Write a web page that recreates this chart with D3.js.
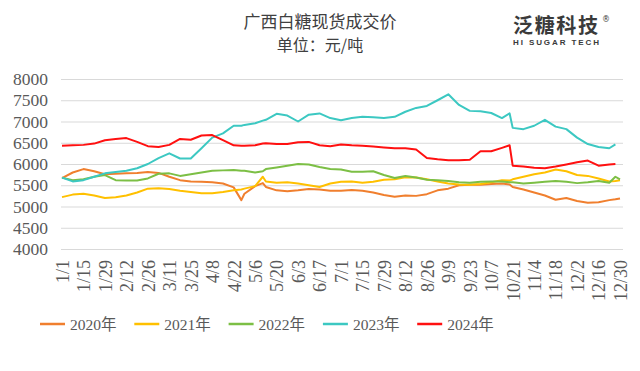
<!DOCTYPE html>
<html>
<head>
<meta charset="utf-8">
<script src="https://cdn.jsdelivr.net/npm/d3@7"></script>
<style>
  html, body { margin: 0; padding: 0; background: #ffffff; }
  svg { display: block; }
</style>
</head>
<body>
<div id="chart"></div>
<script>
// ---- Data ----
const title = "广西白糖现货成交价";
const subtitle = "单位：元/吨";
const seriesNames = ["2020年", "2021年", "2022年", "2023年", "2024年"];
const seriesColors = ["#F07F2E", "#FFC000", "#7CBF45", "#3CC8C2", "#FF1010"];

// tick labels (every 14 days, leap-year calendar)
const xTickLabels = ["1/1","1/15","1/29","2/12","2/26","3/11","3/25","4/8","4/22","5/6","5/20","6/3","6/17","7/1","7/15","7/29","8/12","8/26","9/9","9/23","10/7","10/21","11/4","11/18","12/2","12/16","12/30"];
const yTicks = [4000, 4500, 5000, 5500, 6000, 6500, 7000, 7500, 8000];

// day-of-year index (0 = 1/1) at which values were read
const days = [0,7,14,21,28,35,42,49,56,63,70,77,84,91,98,105,112,117,119,126,131,133,140,147,154,161,168,175,182,189,196,203,210,217,224,231,238,245,252,259,266,273,280,287,292,294,301,308,315,322,329,336,343,350,357,361,364];

const v2020 = [5670,5800,5880,5830,5760,5770,5780,5790,5810,5790,5700,5620,5590,5580,5570,5540,5450,5150,5300,5480,5550,5460,5380,5360,5380,5410,5400,5370,5370,5390,5370,5330,5270,5230,5260,5250,5290,5380,5420,5500,5510,5510,5530,5540,5520,5460,5400,5330,5260,5160,5200,5130,5090,5100,5150,5170,5190];
const v2021 = [5220,5280,5300,5260,5200,5220,5260,5330,5420,5430,5410,5370,5340,5310,5310,5340,5380,5400,5420,5480,5700,5590,5560,5570,5540,5500,5460,5540,5580,5590,5560,5580,5630,5640,5690,5680,5640,5590,5540,5520,5510,5530,5570,5620,5610,5640,5700,5760,5800,5870,5830,5740,5720,5660,5590,5600,5620];
const v2022 = [5680,5620,5640,5700,5740,5620,5610,5610,5660,5770,5780,5720,5760,5800,5840,5850,5860,5840,5840,5800,5830,5880,5920,5960,6000,5990,5930,5880,5870,5820,5820,5830,5740,5670,5720,5680,5630,5620,5600,5570,5560,5580,5590,5590,5570,5570,5540,5560,5580,5600,5580,5550,5570,5600,5560,5700,5640];
const v2023 = [5680,5590,5620,5700,5780,5810,5840,5900,6000,6140,6250,6130,6130,6370,6620,6720,6900,6900,6920,6960,7020,7040,7180,7140,7000,7160,7190,7080,7030,7080,7110,7100,7080,7110,7230,7320,7365,7500,7640,7390,7250,7240,7200,7080,7190,6850,6820,6900,7040,6880,6820,6620,6470,6400,6370,6460,null];
const v2024 = [6430,6440,6450,6480,6560,6590,6610,6520,6420,6400,6450,6590,6570,6670,6680,6560,6440,6430,6430,6440,6480,6490,6470,6470,6510,6520,6440,6420,6460,6440,6430,6410,6390,6370,6370,6340,6140,6110,6090,6090,6100,6300,6300,6380,6440,5960,5940,5910,5900,5940,5990,6040,6080,5960,5990,6000,null];

const seriesValues = [v2020, v2021, v2022, v2023, v2024];

// ---- Layout ----
const W = 640, H = 371;
const svg = d3.select("#chart").append("svg").attr("width", W).attr("height", H);

const x = d3.scaleLinear().domain([0, 364]).range([62, 620]);
const y = d3.scaleLinear().domain([4000, 8000]).range([249, 79]);

// titles
svg.append("text").attr("x", 320).attr("y", 28).attr("text-anchor", "middle")
  .attr("font-family", "'Noto Sans CJK SC', sans-serif").attr("font-size", 17)
  .attr("fill", "#404040").text(title);
svg.append("text").attr("x", 320).attr("y", 51).attr("text-anchor", "middle")
  .attr("font-family", "'Noto Sans CJK SC', sans-serif").attr("font-size", 16)
  .attr("fill", "#404040").text(subtitle);

// logo
svg.append("text").attr("x", 513).attr("y", 33)
  .attr("font-family", "'Noto Sans CJK SC', sans-serif").attr("font-weight", 700)
  .attr("font-size", 20).attr("letter-spacing", 1).attr("fill", "#3a3a3a")
  .attr("textLength", 86).text("泛糖科技");
svg.append("text").attr("x", 602).attr("y", 22)
  .attr("font-family", "'DejaVu Sans', sans-serif").attr("font-size", 8)
  .attr("fill", "#3a3a3a").text("®");
svg.append("text").attr("x", 513).attr("y", 45)
  .attr("font-family", "'Liberation Sans', Arial, sans-serif").attr("font-weight", 700)
  .attr("font-size", 8).attr("fill", "#3a3a3a")
  .attr("textLength", 86).attr("lengthAdjust", "spacing").text("HI SUGAR TECH");

// gridlines
const yAxis = d3.axisLeft(y).tickValues(yTicks).tickSize(-(623 - 61)).tickFormat(d => d).tickPadding(13);
const gy = svg.append("g").attr("transform", "translate(61,0)").call(yAxis);
gy.select(".domain").remove();
gy.selectAll(".tick line").attr("stroke", "#d9d9d9").attr("stroke-width", 1);
gy.selectAll(".tick text").attr("font-family", "'Liberation Serif', 'Times New Roman', serif")
  .attr("font-size", 17.5).attr("fill", "#595959");

// x axis labels
const xTickDays = xTickLabels.map((d, i) => i * 14);
const xAxis = d3.axisBottom(x).tickValues(xTickDays).tickSize(0)
  .tickFormat((d, i) => xTickLabels[i]);
const gx = svg.append("g").attr("transform", "translate(0,249)").call(xAxis);
gx.select(".domain").remove();
gx.selectAll(".tick text")
  .attr("font-family", "'Liberation Serif', 'Times New Roman', serif")
  .attr("font-size", 18).attr("fill", "#595959")
  .attr("text-anchor", "end")
  .attr("transform", "rotate(-90)")
  .attr("x", -11).attr("y", 0).attr("dy", "0.35em");

// lines
const line = d3.line()
  .defined(d => d[1] != null)
  .x(d => x(d[0]))
  .y(d => y(d[1]));

seriesValues.forEach((vals, i) => {
  const pts = days.map((d, j) => [d, vals[j]]);
  svg.append("path").datum(pts)
    .attr("fill", "none")
    .attr("stroke", seriesColors[i])
    .attr("stroke-width", 2)
    .attr("stroke-linejoin", "round")
    .attr("d", line);
});

// legend
const legend = svg.append("g");
seriesNames.forEach((name, i) => {
  const lx = 40 + i * 94.3;
  legend.append("line").attr("x1", lx).attr("x2", lx + 25).attr("y1", 324).attr("y2", 324)
    .attr("stroke", seriesColors[i]).attr("stroke-width", 2.5);
  legend.append("text").attr("x", lx + 30).attr("y", 329.5)
    .attr("font-family", "'Liberation Serif', 'Noto Sans CJK SC', serif")
    .attr("font-size", 15.5).attr("fill", "#595959").text(name);
});
</script>
</body>
</html>
